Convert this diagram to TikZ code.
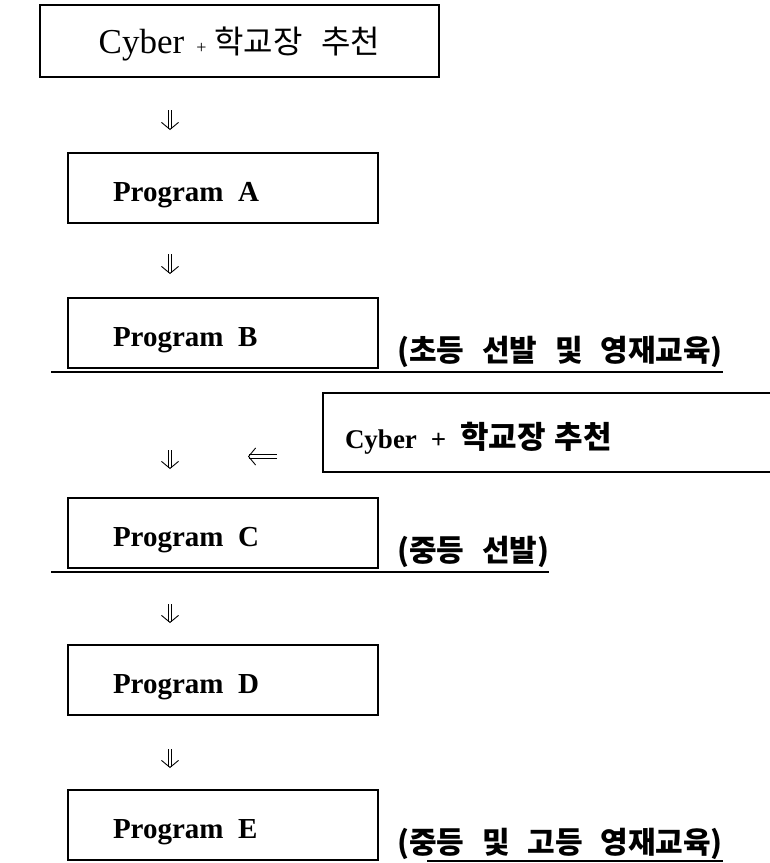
\documentclass[tikz,border=0pt]{standalone}
\usepackage{fontspec}
\setmainfont{Liberation Serif}
\newfontfamily\kr{Noto Sans CJK KR}[WordSpace=2.6]
\usetikzlibrary{arrows.meta, positioning}

\begin{document}
\begin{tikzpicture}[
    x=1pt, y=-1pt,
    every node/.style={inner sep=0pt, outer sep=0pt},
    topbox/.style={rectangle, draw, line width=1.1pt, minimum width=399pt,
        minimum height=72pt, align=center, text height=24pt, text depth=0pt},
    progbox/.style={rectangle, draw, line width=1.1pt, minimum width=310pt,
        minimum height=70pt, text width=220pt, inner xsep=45pt, align=left,
        text height=26pt, text depth=0pt, font=\fontsize{29}{29}\selectfont\bfseries},
    feedbox/.style={rectangle, draw, line width=1.1pt, minimum width=480pt,
        minimum height=79pt, text width=436pt, inner xsep=22pt, align=left,
        text height=32pt, text depth=0pt, font=\fontsize{27}{27}\selectfont\bfseries},
    note/.style={font=\kr\bfseries\fontsize{30}{30}\selectfont},
    rule/.style={line width=1.2pt},
    dnarrow/.style={double, double distance=2.6pt, line width=0.8pt,
        -{Straight Barb[length=7pt, width=17pt, line width=0.9pt]}},
]
\useasboundingbox (0,0) rectangle (770,863);
\clip (0,0) rectangle (770,863);

% --- Entry ---
\node[topbox] (cyber1) at (239.5,41) {{\fontsize{35}{35}\selectfont Cyber}\hspace{12pt}{\fontsize{18}{18}\selectfont +}\hspace{8pt}{\kr\fontsize{32}{32}\selectfont 학교장 추천}};

% --- Programs ---
\node[progbox, below right=76pt and 28pt of cyber1.south west] (progA) {Program\enspace A};
\node[progbox, below=75pt of progA] (progB) {Program\enspace B};
\node[progbox, below=130pt of progB] (progC) {Program\enspace C};
\node[progbox, below=77pt of progC] (progD) {Program\enspace D};
\node[progbox, below=75pt of progD] (progE) {Program\enspace E};

% --- Second entry ---
\node[feedbox, below right=25pt and -55pt of progB.south east] (cyber2) {Cyber\hspace{14pt}+\hspace{14pt}{\kr\fontsize{31}{31}\selectfont 학교장 추천}};

% --- Stage notes ---
\node[note, right=19pt of progB.east, yshift=-19pt] (labB) {(초등 선발 및 영재교육)};
\node[note, right=19pt of progC.east, yshift=-19pt] (labC) {(중등 선발)};
\node[note, right=19pt of progE.east, yshift=-19pt] (labE) {(중등 및 고등 영재교육)};

% --- Underlines ---
\coordinate (ulB) at ([xshift=-17pt, yshift=-4pt]progB.south west);
\coordinate (ulC) at ([xshift=-17pt, yshift=-4pt]progC.south west);
\coordinate (ulE) at ([xshift=359pt, yshift=-1pt]progE.south west);
\draw[rule] (ulB) -- (ulB -| labB.east);
\draw[rule] (ulC) -- (ulC -| labC.east);
\draw[rule] (ulE) -- (ulE -| labE.east);

% --- Arrows ---
\coordinate (col) at ([xshift=102pt]progA.west);
\coordinate (feed) at ([yshift=-24pt]cyber2.west);
\draw[dnarrow, shorten <=33pt, shorten >=23pt] (cyber1.south -| col) -- (progA.north -| col);
\draw[dnarrow, shorten <=31pt, shorten >=24pt] (progA.south -| col) -- (progB.north -| col);
\draw[dnarrow, shorten <=82pt, shorten >=29pt] (progB.south -| col) -- (progC.north -| col);
\draw[dnarrow, shorten <=36pt, shorten >=22pt] (progC.south -| col) -- (progD.north -| col);
\draw[dnarrow, shorten <=34pt, shorten >=22pt] (progD.south -| col) -- (progE.north -| col);
\draw[dnarrow, shorten <=46pt, shorten >=78pt] (feed) -- (feed -| col);

\end{tikzpicture}
\end{document}
